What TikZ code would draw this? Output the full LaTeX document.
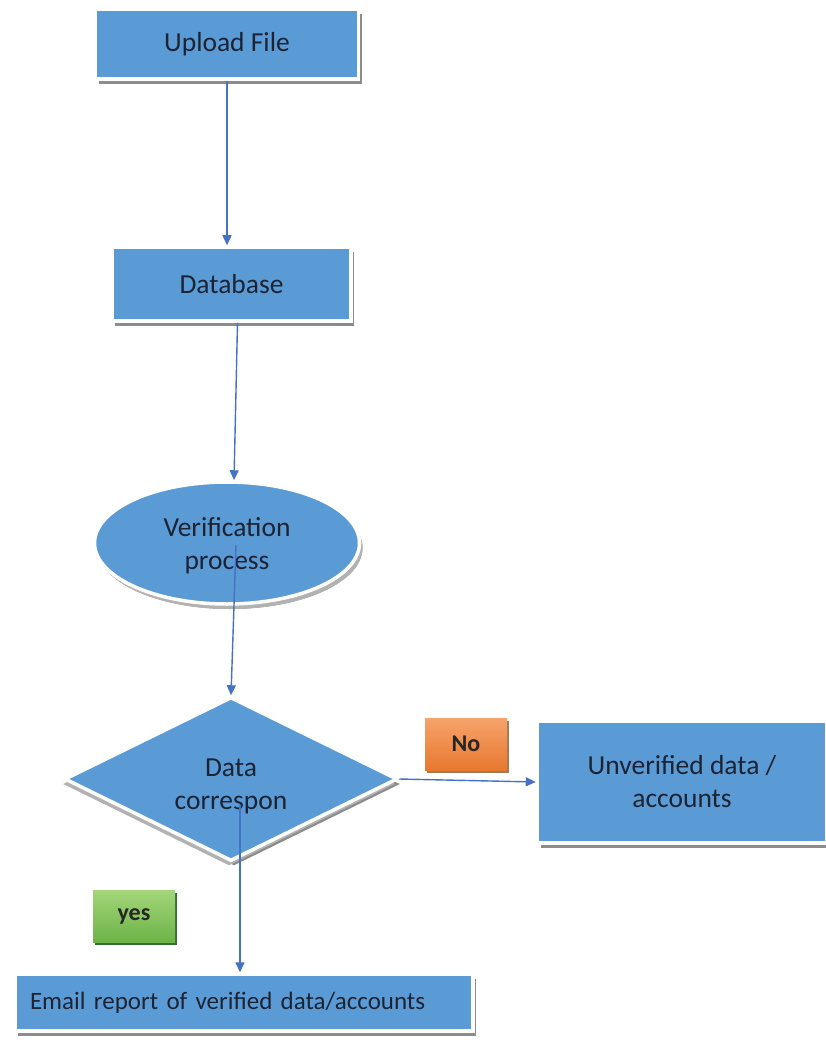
\documentclass[tikz,border=0pt]{standalone}
\usepackage{fontspec}
\setmainfont{Carlito}
\usetikzlibrary{shapes.geometric,shadows,arrows.meta,calc}
\definecolor{boxblue}{HTML}{5B9BD5}
\definecolor{linkblue}{HTML}{4472C4}
\definecolor{txt}{HTML}{1C2333}
\definecolor{notop}{HTML}{F6A36C}
\definecolor{nobot}{HTML}{E8782F}
\definecolor{yestop}{HTML}{A3D67A}
\definecolor{yesbot}{HTML}{6DB347}
\begin{document}
\begin{tikzpicture}[x=1pt,y=-1pt,
  blk/.style={fill=boxblue, draw=white, line width=3.5pt, text=txt,
    font=\fontsize{27.5}{33}\selectfont, align=center, inner sep=0pt,
    drop shadow={shadow xshift=3pt, shadow yshift=-5pt, fill=black!45, opacity=1}},
  tag/.style={draw=none, text=black!85, font=\fontsize{24}{30}\selectfont\bfseries,
    minimum width=82pt, minimum height=52pt, inner sep=0pt},
  conn/.style={draw=linkblue, line width=1.4pt,
    -{Triangle[length=10pt,width=9pt]}}
]
\useasboundingbox (0,0) rectangle (825,1040);
\fill[white] (0,0) rectangle (825,1040);

\node[blk, minimum width=263pt, minimum height=70pt] (up) at (227,44) {Upload File};
\node[blk, minimum width=239pt, minimum height=74pt] (db) at (231.5,284) {Database};
\node[blk, ellipse, minimum width=265pt, minimum height=122pt,
  drop shadow={shadow xshift=3pt, shadow yshift=-5pt, fill=black!30, opacity=1}] (ver) at (227,543) {\raisebox{-3pt}[\height][\depth]{\begin{tabular}{@{}c@{}}Verification\\process\end{tabular}}};
\node[blk, diamond, aspect=2, minimum width=333pt, minimum height=164pt,
  drop shadow={shadow xshift=-2pt, shadow yshift=-5pt, fill=black!30, opacity=1}] (dc) at (231,779) {\raisebox{-7pt}[\height][\depth]{\begin{tabular}{@{}c@{}}Data\\correspon\end{tabular}}};
\node[blk, minimum width=289pt, minimum height=122pt] (unv) at (682,782) {Unverified data /\\accounts};
\node[blk, font=\fontsize{25}{30}\selectfont, text width=428pt, align=left, inner xsep=15pt,
  minimum height=57pt] (em) at (244,1002.5) {Email report of verified data/accounts};

\node[tag, top color=notop, bottom color=nobot,
  drop shadow={shadow xshift=2pt, shadow yshift=-3pt, fill=brown!70!black, opacity=0.8}] (no) at (466,744) {No};
\node[tag, top color=yestop, bottom color=yesbot,
  drop shadow={shadow xshift=2pt, shadow yshift=-3pt, fill=green!30!black, opacity=0.8}] (yes) at (134,916) {yes};

\draw[conn] (up.south) -- (db.north -| up.south);
\draw[conn] ($(db.south)+(6,0)$) -- ($(ver.north)+(7,0)$);
\draw[conn] ($(ver.center)+(9,2)$) -- (dc.north);
\draw[conn] (dc.east) -- (unv.west);
\draw[conn] ($(dc.center)+(9,26)$) -- ($(em.north)+(-4,0)$);
\end{tikzpicture}
\end{document}
